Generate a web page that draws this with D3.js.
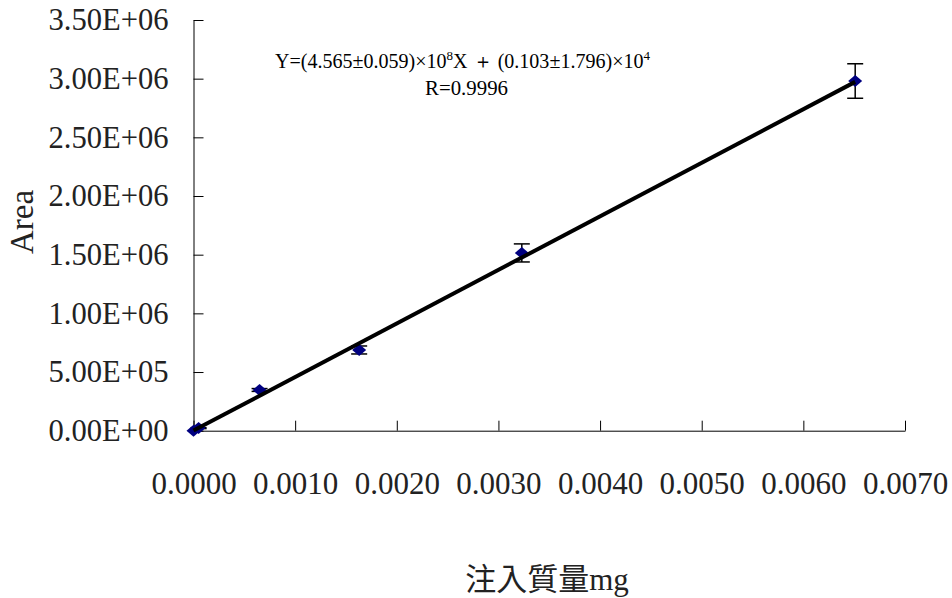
<!DOCTYPE html>
<html>
<head>
<meta charset="utf-8">
<script src="https://cdn.jsdelivr.net/npm/d3@7"></script>
<style>
  body { margin: 0; background: #fff; }
  svg { display: block; }
</style>
</head>
<body>
<svg id="graph" width="952" height="598"></svg>
<script>
// injected mass (mg) vs peak area
const massMg = [0, 0.00005, 0.00065, 0.00163, 0.00323, 0.00651];
const areas = [0, 2.2e4, 3.47e5, 6.88e5, 1.515e6, 2.98e6];
const areaErr = [0, 4e3, 1.2e4, 3.4e4, 7.7e4, 1.47e5];
const xTicks = [0, 0.001, 0.002, 0.003, 0.004, 0.005, 0.006, 0.007];
const yTicks = [0, 5e5, 1e6, 1.5e6, 2e6, 2.5e6, 3e6, 3.5e6];
const slope = 4.565e8, intercept = 0.103e4;

(function () {
    let svg = d3.select('#graph'),
        serif = '"Liberation Serif", "Times New Roman", serif';

    let x = d3.scaleLinear().domain([0, 0.007]).range([193.5, 905]),
        y = d3.scaleLinear().domain([0, 3.5e6]).range([430.7, 20]);

    let data = massMg.map((m, i) => ({ x: m, y: areas[i], e: areaErr[i] }));

    // excel style 0.00E+00
    function sci(v) {
        let e = v === 0 ? 0 : Math.floor(Math.log10(v)),
            m = v / Math.pow(10, e);
        return m.toFixed(2) + 'E+' + String(e).padStart(2, '0');
    }

    // y axis, ticks pointing inward
    let gy = svg.append('g')
        .attr('transform', `translate(${x(0)},0)`)
        .call(d3.axisRight(y).tickValues(yTicks).tickSize(10).tickSizeOuter(0).tickFormat(sci));
    gy.select('.domain').attr('stroke', '#000');
    gy.selectAll('.tick line').attr('stroke', '#000');
    gy.selectAll('.tick text')
        .attr('x', -25)
        .attr('text-anchor', 'end')
        .attr('fill', '#222')
        .attr('textLength', 120)
        .attr('lengthAdjust', 'spacingAndGlyphs')
        .style('font', `31px ${serif}`);

    // x axis, ticks pointing inward
    let gx = svg.append('g')
        .attr('transform', `translate(0,${y(0)})`)
        .call(d3.axisTop(x).tickValues(xTicks).tickSize(10).tickSizeOuter(0)
            .tickFormat(d3.format('.4f')));
    gx.select('.domain').attr('stroke', '#000');
    gx.selectAll('.tick line').attr('stroke', '#000');
    gx.selectAll('.tick text')
        .attr('y', 63)
        .attr('dy', 0)
        .attr('fill', '#222')
        .style('font', `31px ${serif}`);

    // axis titles
    svg.append('text')
        .attr('transform', `translate(33,222) rotate(-90)`)
        .attr('text-anchor', 'middle')
        .attr('fill', '#222')
        .style('font', `33px ${serif}`)
        .text('Area');

    svg.append('text')
        .attr('x', 547)
        .attr('y', 590)
        .attr('text-anchor', 'middle')
        .attr('fill', '#222')
        .style('font', `31px "Liberation Serif", "Noto Sans CJK TC", serif`)
        .text('注入質量mg');

    // error bars
    let eb = svg.append('g').attr('stroke', '#000').attr('stroke-width', 1.5);
    data.filter(d => d.e > 0).forEach(d => {
        let cx = x(d.x);
        eb.append('line').attr('x1', cx).attr('x2', cx).attr('y1', y(d.y - d.e)).attr('y2', y(d.y + d.e));
        eb.append('line').attr('x1', cx - 8).attr('x2', cx + 8).attr('y1', y(d.y - d.e)).attr('y2', y(d.y - d.e));
        eb.append('line').attr('x1', cx - 8).attr('x2', cx + 8).attr('y1', y(d.y + d.e)).attr('y2', y(d.y + d.e));
    });

    // markers
    svg.append('g').selectAll('path')
        .data(data)
        .enter().append('path')
        .attr('d', 'M0,-6L7,0L0,6L-7,0Z')
        .attr('transform', d => `translate(${x(d.x)},${y(d.y)})`)
        .attr('fill', '#000080');

    // fitted line
    let fitX = d3.extent(massMg);
    svg.append('line')
        .attr('x1', x(fitX[0])).attr('y1', y(slope * fitX[0] + intercept))
        .attr('x2', x(fitX[1])).attr('y2', y(slope * fitX[1] + intercept))
        .attr('stroke', '#000')
        .attr('stroke-width', 4);

    // equation
    let eq = svg.append('text')
        .attr('x', 275)
        .attr('y', 68)
        .attr('fill', '#000')
        .attr('textLength', 375)
        .attr('lengthAdjust', 'spacingAndGlyphs')
        .style('font', `20px ${serif}`);
    eq.append('tspan').text('Y=(4.565±0.059)×10');
    eq.append('tspan').attr('dy', -8).style('font-size', '13px').text('8');
    eq.append('tspan').attr('dy', 8).text('X ＋ (0.103±1.796)×10');
    eq.append('tspan').attr('dy', -8).style('font-size', '13px').text('4');

    svg.append('text')
        .attr('x', 425)
        .attr('y', 95)
        .attr('fill', '#000')
        .attr('textLength', 83)
        .attr('lengthAdjust', 'spacingAndGlyphs')
        .style('font', `20px ${serif}`)
        .text('R=0.9996');
}());
</script>
</body>
</html>
